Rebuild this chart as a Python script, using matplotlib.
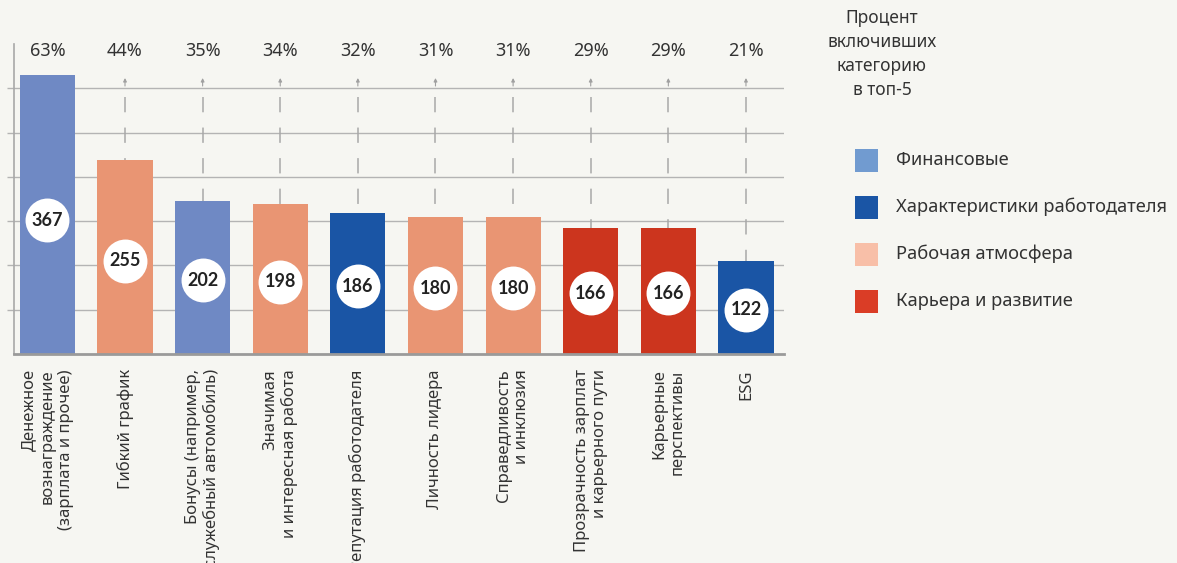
import matplotlib
matplotlib.use("Agg")
import matplotlib.pyplot as plt
from matplotlib.patches import Rectangle

# ---- data ----
categories = [
    "Денежное\nвознаграждение\n(зарплата и прочее)",
    "Гибкий график",
    "Бонусы (например,\nслужебный автомобиль)",
    "Значимая\nи интересная работа",
    "Репутация работодателя",
    "Личность лидера",
    "Справедливость\nи инклюзия",
    "Прозрачность зарплат\nи карьерного пути",
    "Карьерные\nперспективы",
    "ESG",
]
counts = [367, 255, 202, 198, 186, 180, 180, 166, 166, 122]
percents = [63, 44, 35, 34, 32, 31, 31, 29, 29, 21]
groups = [0, 2, 0, 2, 1, 2, 2, 3, 3, 1]
group_names = ["Финансовые", "Характеристики работодателя",
               "Рабочая атмосфера", "Карьера и развитие"]
title_lines = ["Процент", "включивших", "категорию", "в топ-5"]
respondents = 583  # estimated total (367 ≈ 63%)

# ---- style ----
bar_colors = ["#6F89C4", "#1A55A5", "#E99573", "#CC351E"]
legend_colors = ["#719BD0", "#1A55A5", "#F8BFA8", "#DA3D26"]
bg = "#F6F6F2"
grid_c = "#B4B4B4"
text_c = "#333333"
FONT = "Noto Sans"
plt.rcParams["font.family"] = [FONT, "DejaVu Sans"]

W, H = 1177, 563
fig = plt.figure(figsize=(W / 100, H / 100), dpi=100, facecolor=bg)

ax_l, ax_r, ax_b, ax_t = 14, 784, 354, 44
ax = fig.add_axes([ax_l / W, 1 - ax_b / H, (ax_r - ax_l) / W, (ax_b - ax_t) / H])
ax.set_facecolor(bg)

upp = respondents / 10 / 44.3  # data units per pixel
ax.set_ylim(0, (ax_b - ax_t) * upp)
ax.set_xlim(-0.43, 9.49)

x = list(range(len(counts)))
ax.bar(x, counts, width=0.71, color=[bar_colors[g] for g in groups], zorder=3)

# grid at 10% steps
ticks = [respondents * k / 10 for k in range(1, 7)]
ax.set_yticks(ticks)
ax.set_yticklabels([])
ax.tick_params(axis="y", length=5, width=1, color=grid_c, direction="out")
ax.yaxis.grid(True, color=grid_c, lw=1.0, zorder=1)
ax.set_xticks(x)
ax.set_xticklabels(categories, rotation=90, ha="center", va="top",
                   multialignment="right", fontsize=12, color=text_c,
                   linespacing=1.2)
ax.tick_params(axis="x", length=0, pad=11)

for s in ["top", "right"]:
    ax.spines[s].set_visible(False)
ax.spines["left"].set_color("#A8A8A8")
ax.spines["left"].set_linewidth(1.2)
ax.spines["bottom"].set_color("#9A9A9A")
ax.spines["bottom"].set_linewidth(2)
ax.spines["bottom"].set_zorder(4)

# dashed guides with arrows, percent labels
pct_y = (ax_b - 51) * upp
tip_y = (ax_b - 78) * upp
stem_y = (ax_b - 86) * upp
dash_top = (ax_b - 97) * upp
for i, (c, p) in enumerate(zip(counts, percents)):
    if c < dash_top:
        ax.plot([i, i], [dash_top, c], color="#A8A8A8", lw=1.1,
                ls=(0, (10, 10)), zorder=2)
    if c < stem_y:
        ax.annotate("", xy=(i, tip_y), xytext=(i, stem_y),
                    arrowprops=dict(arrowstyle="-|>", color="#A0A0A0",
                                    lw=0.8, mutation_scale=5,
                                    shrinkA=0, shrinkB=0), zorder=2)
    ax.text(i, pct_y, f"{p}%", ha="center", va="center", fontsize=13,
            color=text_c)

# value circles
ax.scatter(x, [c * 0.48 for c in counts], s=1000, color="white",
           zorder=5, linewidths=0)
for i, c in enumerate(counts):
    ax.text(i, c * 0.48, str(c), ha="center", va="center", fontsize=13,
            fontweight="bold", family=["Lato", "DejaVu Sans"],
            color="#222222", zorder=6)

# title on the right
for k, line in enumerate(title_lines):
    fig.text(882 / W, 1 - (18 + 24 * k) / H, line, ha="center", va="center",
             fontsize=12.5, color=text_c)

# legend
for k, (name, col) in enumerate(zip(group_names, legend_colors)):
    yc = 160 + 47 * k
    fig.add_artist(Rectangle((855 / W, 1 - (yc + 11.5) / H), 23 / W, 23 / H,
                             transform=fig.transFigure, color=col, lw=0))
    fig.text(896 / W, 1 - yc / H, name, ha="left", va="center",
             fontsize=13.2, color=text_c)

fig.savefig("out.png", dpi=100, facecolor=bg)
